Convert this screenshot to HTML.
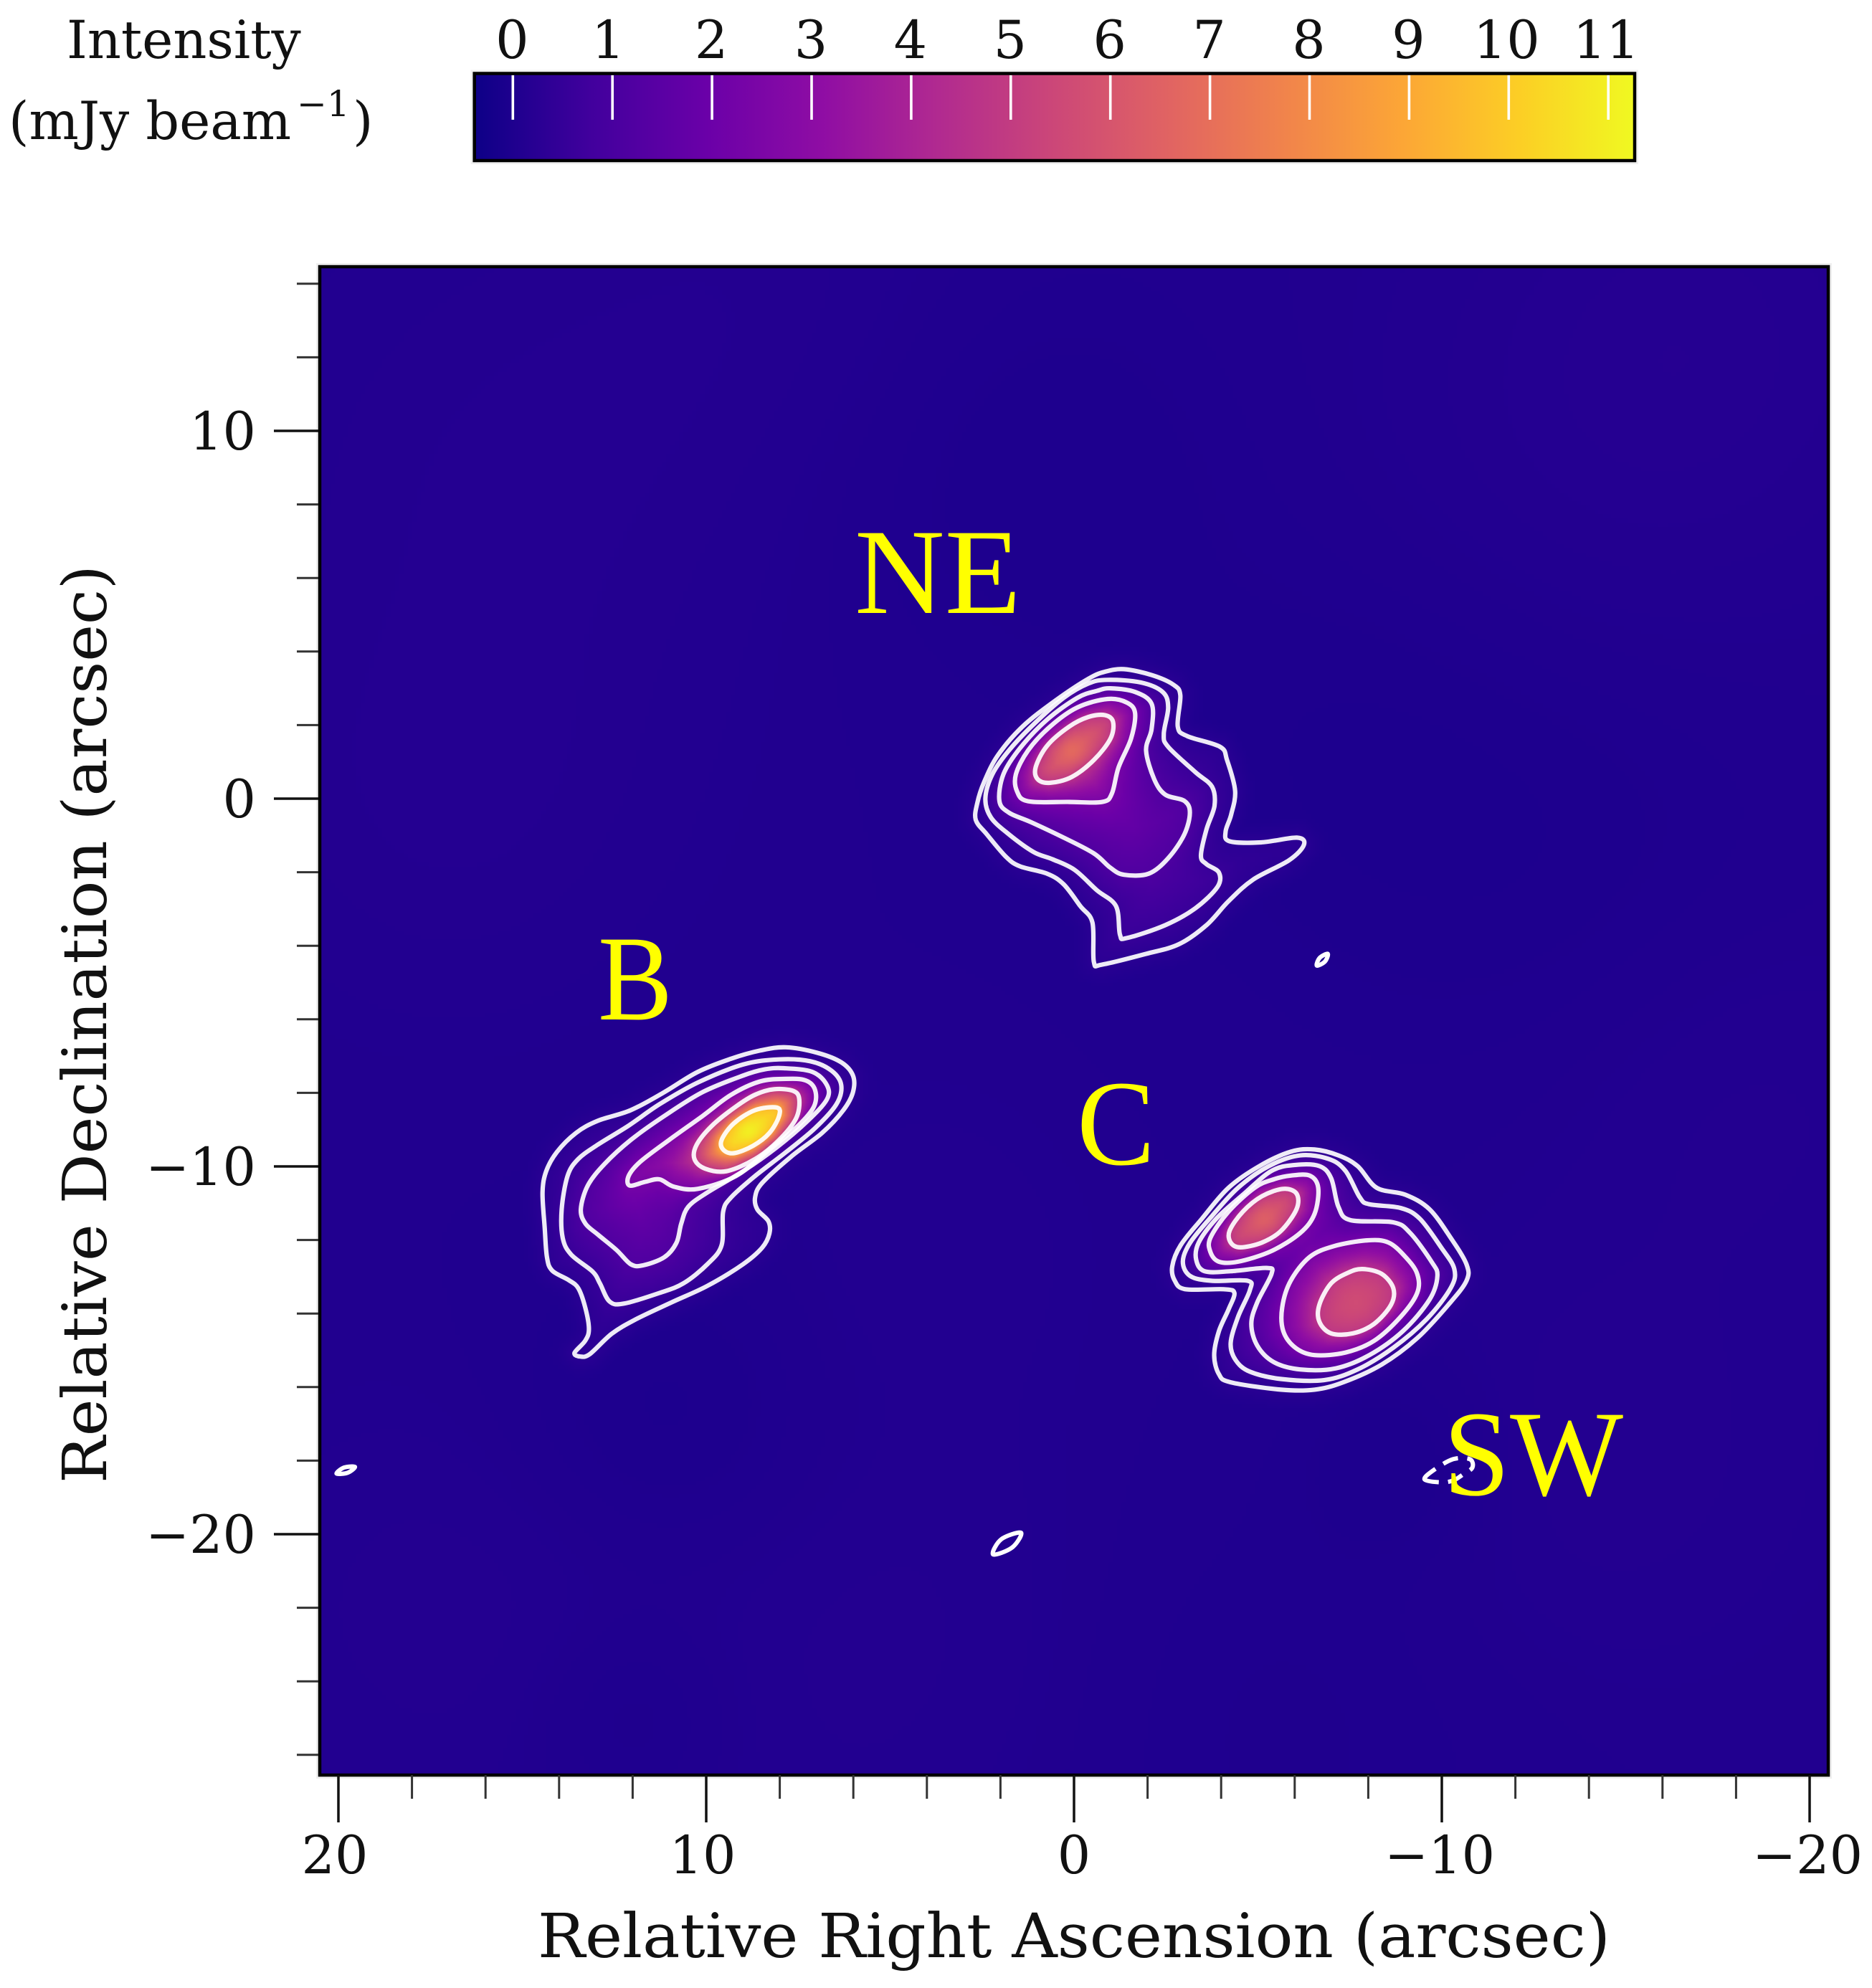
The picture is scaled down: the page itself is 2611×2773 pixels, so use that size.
<!DOCTYPE html>
<html lang="en">
<head>
<meta charset="utf-8">
<title>Relative intensity map with contours</title>
<style>
html,body{margin:0;padding:0;background:#fff;}
#stage{position:relative;width:2611px;height:2773px;overflow:hidden;background:#fff;}
#map{position:absolute;left:446px;top:372px;width:2104px;height:2104px;}
#over{position:absolute;left:0;top:0;width:2611px;height:2773px;}
text{font-family:"DejaVu Serif","Liberation Serif",serif;fill:#111;}
</style>
</head>
<body>
<div id="stage">
<canvas id="map"></canvas>
<svg id="over" xmlns="http://www.w3.org/2000/svg" width="2611" height="2773" viewBox="0 0 2611 2773">
  <defs><linearGradient id="plasmaGrad" x1="0" x2="1" y1="0" y2="0"></linearGradient></defs>
  <g id="cbar"></g>
  <g id="contours"></g>
  <g id="axes"></g>
  <g id="labels">
    <text x="1192" y="855" textLength="232" lengthAdjust="spacingAndGlyphs" style="font-family:'Liberation Serif',serif;fill:#ffff00;font-size:170px">NE</text>
    <text x="834" y="1422" textLength="104" lengthAdjust="spacingAndGlyphs" style="font-family:'Liberation Serif',serif;fill:#ffff00;font-size:170px">B</text>
    <text x="1502" y="1624" textLength="109" lengthAdjust="spacingAndGlyphs" style="font-family:'Liberation Serif',serif;fill:#ffff00;font-size:170px">C</text>
    <text x="2013" y="2085" textLength="251" lengthAdjust="spacingAndGlyphs" style="font-family:'Liberation Serif',serif;fill:#ffff00;font-size:170px">SW</text>
  </g>
  <text x="750" y="2730" font-size="85" textLength="1496" lengthAdjust="spacingAndGlyphs">Relative Right Ascension (arcsec)</text>
  <text transform="translate(148,2069) rotate(-90)" x="0" y="0" font-size="85" textLength="1281" lengthAdjust="spacingAndGlyphs">Relative Declination (arcsec)</text>
  <text x="93" y="81" font-size="73">Intensity</text>
  <text x="12" y="194" font-size="73">(mJy beam</text>
  <text x="414" y="162" font-size="50">−1</text>
  <text x="492" y="194" font-size="73">)</text>
</svg>
</div>
<script>
// ---------- data (arcsec and mJy/beam) ----------
const contourLevels = [0.3, 0.6, 1.2, 2.4, 4.8, 9.6];
const xMajorTicks = [20, 10, 0, -10, -20];
const xMinorTicks = [18, 16, 14, 12, 8, 6, 4, 2, -2, -4, -6, -8, -12, -14, -16, -18];
const yMajorTicks = [10, 0, -10, -20];
const yMinorTicks = [14, 12, 8, 6, 4, 2, -2, -4, -6, -8, -12, -14, -16, -18, -22, -24, -26];
const colorbarTicks = [0, 1, 2, 3, 4, 5, 6, 7, 8, 9, 10, 11];
const plasmaStops = ["#0d0087", "#41009d", "#6a00a8", "#8f0da4", "#b12a90", "#cc4778", "#e16462", "#f1844b", "#fca636", "#fcce25", "#f0f921"];

const intensityPeaks = [
  [0.06, 1.31, 6.8],
  [8.83, -9.02, 11.0],
  [-5.17, -11.42, 6.4],
  [-7.64, -13.70, 5.6]
];
const backgroundRipples = [
  [15, 9, 5, 0.07], [1, 9, 4, -0.07], [-14, 8, 5, 0.06], [17, 0, 4, 0.07], [-7, 2, 4, -0.05],
  [-13, -1, 5, -0.07], [11, -17, 3, -0.09], [-18, -8, 4, 0.06], [-14, -18, 4, 0.07], [-9, -18, 2, -0.08],
  [5, -23, 5, 0.06], [12, -25, 2, -0.08], [-5, -25, 5, -0.05], [17, -22, 4, 0.06], [4, -12, 3, 0.04],
  [-17, 13, 4, 0.08], [8, 14, 4, 0.05]
];
const backgroundLevel = 0.05;

const ne0 = [[-1.36,3.52],[-2.11,3.36],[-2.70,3.10],[-2.89,2.81],[-2.82,1.96],[-3.08,1.70],[-3.97,1.41],[-4.16,1.05],[-4.38,0.21],[-4.27,-0.44],[-4.12,-0.90],[-4.23,-1.16],[-5.09,-1.19],[-6.06,-1.06],[-6.25,-1.26],[-5.84,-1.68],[-4.87,-2.20],[-4.20,-2.79],[-3.60,-3.44],[-2.85,-3.96],[-1.96,-4.22],[-0.77,-4.51],[-0.54,-4.44],[-0.50,-3.37],[-0.17,-2.92],[0.28,-2.33],[0.73,-2.04],[1.47,-1.84],[1.85,-1.58],[2.37,-0.97],[2.67,-0.58],[2.63,-0.12],[2.44,0.46],[2.07,1.18],[1.40,1.96],[0.50,2.67],[-0.39,3.26],[-0.84,3.45]];
const ne1 = [[-0.91,3.23],[-1.81,3.16],[-2.41,2.90],[-2.56,2.48],[-2.44,1.76],[-2.56,1.41],[-3.30,0.72],[-3.75,0.33],[-3.82,-0.19],[-3.60,-0.84],[-3.45,-1.55],[-3.60,-1.78],[-3.94,-2.01],[-3.90,-2.40],[-3.30,-2.98],[-2.48,-3.44],[-1.44,-3.79],[-1.25,-3.70],[-1.14,-2.92],[-0.62,-2.49],[-0.02,-1.94],[0.58,-1.65],[1.10,-1.45],[1.77,-0.97],[2.26,-0.51],[2.41,0.01],[2.22,0.66],[1.77,1.31],[1.10,2.02],[0.28,2.74],[-0.39,3.13]];
const ne2 = [[-0.99,3.00],[-1.66,2.90],[-2.11,2.58],[-2.11,1.89],[-1.96,1.31],[-2.18,0.53],[-2.48,0.11],[-3.00,-0.06],[-3.15,-0.38],[-3.00,-0.97],[-2.56,-1.62],[-2.03,-2.04],[-1.36,-2.07],[-0.99,-1.88],[-0.54,-1.49],[0.28,-1.06],[1.17,-0.64],[1.77,-0.38],[2.03,-0.06],[1.92,0.66],[1.47,1.37],[0.73,2.15],[-0.09,2.74],[-0.62,2.93]];
const ne3 = [[-0.91,2.71],[-1.44,2.61],[-1.66,2.32],[-1.55,1.63],[-1.21,0.85],[-1.03,0.14],[-0.77,-0.09],[0.13,-0.09],[1.25,-0.07],[1.55,0.20],[1.58,0.66],[1.25,1.31],[0.65,1.96],[-0.09,2.48]];
const ne4 = [[-0.84,2.27],[-1.06,2.09],[-0.99,1.63],[-0.54,1.05],[0.06,0.59],[0.65,0.43],[0.99,0.53],[1.04,0.86],[0.73,1.44],[0.13,1.96],[-0.39,2.22]];

const b0 = [[7.83,-6.76],[6.98,-6.91],[6.33,-7.17],[6.01,-7.53],[6.01,-7.98],[6.27,-8.47],[6.85,-9.09],[7.70,-9.74],[8.48,-10.45],[8.67,-10.84],[8.61,-11.17],[8.31,-11.49],[8.28,-11.82],[8.48,-12.21],[9.00,-12.66],[9.97,-13.25],[10.95,-13.70],[11.92,-14.16],[12.57,-14.55],[13.16,-15.10],[13.42,-15.17],[13.58,-15.07],[13.29,-14.74],[13.19,-14.42],[13.29,-13.83],[13.48,-13.31],[13.74,-13.09],[14.19,-12.83],[14.33,-12.47],[14.39,-11.69],[14.45,-10.71],[14.35,-10.13],[14.06,-9.61],[13.54,-9.09],[12.95,-8.76],[12.05,-8.47],[11.14,-7.98],[10.23,-7.43],[9.32,-7.07],[8.54,-6.85]];
const b1 = [[8.02,-7.09],[7.17,-7.14],[6.59,-7.40],[6.33,-7.79],[6.46,-8.31],[7.04,-8.96],[7.83,-9.61],[8.67,-10.26],[9.32,-10.84],[9.54,-11.23],[9.58,-12.14],[9.97,-12.66],[10.62,-13.18],[11.27,-13.44],[12.24,-13.73],[12.63,-13.67],[12.89,-13.18],[13.09,-12.86],[13.67,-12.40],[13.90,-11.95],[13.93,-11.17],[13.77,-10.26],[13.48,-9.80],[12.95,-9.41],[12.11,-8.89],[11.27,-8.31],[10.23,-7.72],[9.00,-7.23]];
const b2 = [[7.89,-7.33],[7.11,-7.43],[6.72,-7.79],[6.72,-8.18],[7.24,-8.76],[8.08,-9.48],[9.00,-10.13],[9.97,-10.71],[10.49,-11.10],[10.68,-11.56],[10.81,-12.08],[11.14,-12.47],[11.72,-12.69],[12.05,-12.66],[12.44,-12.27],[12.95,-11.85],[13.28,-11.56],[13.41,-11.17],[13.22,-10.52],[12.76,-9.93],[12.05,-9.28],[11.14,-8.63],[10.10,-7.98],[9.00,-7.53],[8.41,-7.36]];
const b3 = [[7.83,-7.62],[7.30,-7.66],[7.04,-7.92],[7.07,-8.37],[7.50,-8.89],[8.28,-9.54],[9.19,-10.26],[10.23,-10.61],[10.88,-10.55],[11.27,-10.35],[11.66,-10.42],[12.08,-10.52],[12.11,-10.26],[11.79,-9.87],[11.01,-9.28],[10.10,-8.63],[9.32,-8.05],[8.54,-7.69]];
const b4 = [[8.15,-7.90],[7.63,-7.95],[7.47,-8.18],[7.56,-8.70],[8.02,-9.28],[8.67,-9.80],[9.45,-10.13],[10.03,-10.06],[10.32,-9.80],[10.26,-9.41],[9.84,-8.89],[9.19,-8.37],[8.67,-8.05]];
const b5 = [[8.08,-8.40],[8.02,-8.63],[8.28,-9.09],[8.73,-9.44],[9.25,-9.64],[9.54,-9.54],[9.58,-9.28],[9.25,-8.83],[8.67,-8.47]];

const sw0 = [[-6.54,-9.54],[-7.19,-9.70],[-7.71,-9.99],[-8.23,-10.58],[-9.01,-10.77],[-9.66,-11.16],[-10.24,-11.94],[-10.67,-12.66],[-10.67,-13.11],[-10.18,-13.76],[-9.33,-14.67],[-8.36,-15.39],[-7.32,-15.87],[-6.54,-16.07],[-5.63,-16.07],[-4.26,-15.87],[-3.94,-15.65],[-3.81,-15.13],[-3.94,-14.48],[-4.20,-13.89],[-4.36,-13.44],[-4.07,-13.34],[-3.03,-13.34],[-2.74,-13.11],[-2.67,-12.72],[-2.90,-12.14],[-3.48,-11.42],[-4.20,-10.58],[-5.04,-9.99],[-5.89,-9.60]];
const sw1 = [[-6.15,-9.70],[-6.93,-9.80],[-7.38,-10.12],[-7.77,-10.84],[-8.03,-11.03],[-8.88,-11.13],[-9.40,-11.42],[-9.98,-12.20],[-10.34,-12.79],[-10.24,-13.31],[-9.59,-14.15],[-8.68,-14.93],[-7.71,-15.52],[-6.80,-15.81],[-5.63,-15.78],[-4.78,-15.58],[-4.39,-15.26],[-4.26,-14.80],[-4.46,-14.09],[-4.78,-13.37],[-4.72,-13.11],[-3.74,-13.11],[-3.16,-12.98],[-2.96,-12.59],[-3.16,-12.07],[-3.74,-11.36],[-4.46,-10.58],[-5.30,-9.99]];
const sw2 = [[-6.02,-9.96],[-6.67,-9.99],[-6.99,-10.32],[-7.19,-11.10],[-7.51,-11.46],[-8.68,-11.52],[-9.14,-11.81],[-9.72,-12.59],[-9.88,-12.98],[-9.66,-13.63],[-8.94,-14.48],[-8.03,-15.13],[-7.12,-15.49],[-6.15,-15.52],[-5.43,-15.32],[-4.98,-14.87],[-4.82,-14.28],[-4.98,-13.70],[-5.37,-12.92],[-5.24,-12.76],[-4.26,-12.85],[-3.55,-12.85],[-3.32,-12.53],[-3.39,-12.07],[-3.87,-11.42],[-4.59,-10.77],[-5.37,-10.12]];
const sw3 = [[-5.89,-10.25],[-6.41,-10.25],[-6.64,-10.58],[-6.54,-11.29],[-6.15,-11.81],[-5.37,-12.30],[-4.46,-12.59],[-3.94,-12.59],[-3.71,-12.33],[-3.71,-11.94],[-4.20,-11.23],[-4.91,-10.58],[-5.43,-10.35]];
const sw4 = [[-5.69,-10.61],[-6.05,-10.74],[-6.05,-11.16],[-5.63,-11.75],[-5.11,-12.07],[-4.52,-12.20],[-4.26,-12.07],[-4.23,-11.75],[-4.59,-11.23],[-5.11,-10.81]];
const sw5 = [[-7.97,-12.01],[-8.55,-12.07],[-9.01,-12.46],[-9.33,-12.92],[-9.33,-13.44],[-8.88,-14.09],[-8.16,-14.74],[-7.38,-15.06],[-6.54,-15.13],[-6.02,-14.93],[-5.69,-14.48],[-5.66,-13.83],[-5.89,-13.11],[-6.41,-12.46],[-7.06,-12.17]];
const sw6 = [[-7.84,-12.79],[-8.36,-12.92],[-8.68,-13.31],[-8.62,-13.76],[-8.16,-14.28],[-7.58,-14.54],[-6.99,-14.54],[-6.67,-14.22],[-6.67,-13.76],[-6.99,-13.18],[-7.45,-12.89]];

const islandA = [[-6.60,-4.54],[-6.68,-4.33],[-6.90,-4.22],[-6.82,-4.43]];
const islandB = [[20.05,-18.35],[19.75,-18.33],[19.55,-18.17],[19.85,-18.19]];
const islandC = [[2.20,-20.55],[1.68,-20.36],[1.44,-19.96],[1.98,-20.14]];
const negativeIsland = [[-9.53,-18.51],[-9.79,-18.25],[-10.31,-17.96],[-10.76,-17.96],[-10.83,-18.19],[-10.57,-18.38],[-10.31,-18.54],[-9.98,-18.59]];

// level index paired with each contour
const contourSet = [
  [0, ne0], [1, ne1], [2, ne2], [3, ne3], [4, ne4],
  [0, b0], [1, b1], [2, b2], [3, b3], [4, b4], [5, b5],
  [0, sw0], [1, sw1], [2, sw2], [3, sw3], [4, sw4], [3, sw5], [4, sw6]
];
const noiseIslands = [islandA, islandB, islandC];

// ---------- scales ----------
const xZero = 1498, yZero = 1114, pxPerArcsec = 51.3;
function xScale(ra) { return xZero - pxPerArcsec * ra; }
function yScale(dec) { return yZero - pxPerArcsec * dec; }
const mapLeft = 446, mapTop = 372, mapWidth = 2104, mapHeight = 2104;
const frameBottom = 2476;
const vMin = -0.386, vMax = 11.265;
const cbarLeft = 661.7, cbarWidth = 1618.3;
function cbarX(v) { return cbarLeft + (v - vMin) / (vMax - vMin) * cbarWidth; }

const NS = "http://www.w3.org/2000/svg";
function mk(tag, parent, attrs) {
  const el = document.createElementNS(NS, tag);
  for (const k in attrs) el.setAttribute(k, attrs[k]);
  parent.appendChild(el);
  return el;
}
function hexToRgb(h) {
  return [parseInt(h.slice(1, 3), 16), parseInt(h.slice(3, 5), 16), parseInt(h.slice(5, 7), 16)];
}
const plasmaRgb = plasmaStops.map(hexToRgb);
function plasma(v) {
  let n = (v - vMin) / (vMax - vMin);
  n = Math.max(0, Math.min(1, n)) * (plasmaRgb.length - 1);
  const i = Math.min(plasmaRgb.length - 2, Math.floor(n)), f = n - i;
  const a = plasmaRgb[i], b = plasmaRgb[i + 1];
  return [a[0] + (b[0] - a[0]) * f, a[1] + (b[1] - a[1]) * f, a[2] + (b[2] - a[2]) * f];
}

// ---------- colorbar ----------
const grad = document.getElementById("plasmaGrad");
plasmaStops.forEach((c, i) => {
  mk("stop", grad, { offset: i / (plasmaStops.length - 1), "stop-color": c });
});
const cbarGroup = document.getElementById("cbar");
const cbarHalo = mk("rect", cbarGroup, { x: cbarLeft - 3.5, y: 99, width: cbarWidth + 7, height: 128.5, fill: "none", stroke: "#f0f0f0", "stroke-width": 3 });


const cbarRect = mk("rect", cbarGroup, { x: cbarLeft, y: 102.5, width: cbarWidth, height: 121.5, fill: "url(#plasmaGrad)", stroke: "#000", "stroke-width": 4.5 });


function cbarNudge(v) { return v === 1 ? -6 : (v >= 10 ? -3 : -1); }
colorbarTicks.forEach(v => {
  const t = mk("line", cbarGroup, { x1: cbarX(v), x2: cbarX(v), y1: 105, y2: 167, stroke: "#fff", "stroke-width": 3.6 });
  
  
  const l = mk("text", cbarGroup, { x: cbarX(v) + cbarNudge(v), y: 81, "text-anchor": "middle", "font-size": 73 });
  
  
  l.textContent = String(v);
});

// ---------- axes ----------
const axesGroup = document.getElementById("axes");
const frameHalo = mk("rect", axesGroup, { x: 442.5, y: 368.5, width: 2111, height: 2111, fill: "none", stroke: "#f0f0f0", "stroke-width": 3 });


const frame = mk("rect", axesGroup, { x: 446, y: 372, width: 2104, height: 2104, fill: "none", stroke: "#000", "stroke-width": 4.5 });


function signed(v) { return v < 0 ? "\u2212" + Math.abs(v) : String(v); }
function xLabelNudge(v) { return v > 0 ? -5 : (v === 0 ? 0 : -3); }
xMajorTicks.forEach(v => {
  const t = mk("line", axesGroup, { x1: xScale(v), x2: xScale(v), y1: frameBottom, y2: frameBottom + 66, stroke: "#111", "stroke-width": 3.5 });
  
  
  const l = mk("text", axesGroup, { x: xScale(v) + xLabelNudge(v), y: 2613, "text-anchor": "middle", "font-size": 73 });
  
  
  l.textContent = signed(v);
});
xMinorTicks.forEach(v => {
  const t = mk("line", axesGroup, { x1: xScale(v), x2: xScale(v), y1: frameBottom, y2: frameBottom + 33, stroke: "#333", "stroke-width": 3 });
  
  
});
yMajorTicks.forEach(v => {
  const t = mk("line", axesGroup, { x1: 444, x2: 382, y1: yScale(v), y2: yScale(v), stroke: "#111", "stroke-width": 3.5 });
  
  
  const l = mk("text", axesGroup, { x: 357, y: yScale(v) + 26, "text-anchor": "end", "font-size": 73 });
  
  
  l.textContent = signed(v);
});
yMinorTicks.forEach(v => {
  const t = mk("line", axesGroup, { x1: 444, x2: 414, y1: yScale(v), y2: yScale(v), stroke: "#333", "stroke-width": 3 });
  
  
});

// ---------- contours ----------
function smoothPath(pts) {
  const p = pts.map(q => [xScale(q[0]), yScale(q[1])]);
  const n = p.length;
  let d = "M" + p[0][0].toFixed(1) + " " + p[0][1].toFixed(1);
  for (let i = 0; i < n; i++) {
    const p0 = p[(i - 1 + n) % n], p1 = p[i], p2 = p[(i + 1) % n], p3 = p[(i + 2) % n];
    const c1x = p1[0] + (p2[0] - p0[0]) / 6, c1y = p1[1] + (p2[1] - p0[1]) / 6;
    const c2x = p2[0] - (p3[0] - p1[0]) / 6, c2y = p2[1] - (p3[1] - p1[1]) / 6;
    d += "C" + c1x.toFixed(1) + " " + c1y.toFixed(1) + " " + c2x.toFixed(1) + " " + c2y.toFixed(1) + " " + p2[0].toFixed(1) + " " + p2[1].toFixed(1);
  }
  return d + "Z";
}
const contourGroup = document.getElementById("contours");
contourSet.forEach(entry => {
  const c = mk("path", contourGroup, { d: smoothPath(entry[1]), fill: "none", stroke: "#fff", "stroke-width": 6.2, "stroke-opacity": 0.92 });
  
  
});
noiseIslands.forEach(pts => {
  const c = mk("path", contourGroup, { d: smoothPath(pts), fill: "none", stroke: "#fff", "stroke-width": 6 });
  
  
});
const negContour = mk("path", contourGroup, { d: smoothPath(negativeIsland), fill: "none", stroke: "#fff", "stroke-width": 6, "stroke-dasharray": "22 13" });



// ---------- intensity field ----------
function inside(pts, x, y) {
  let c = false;
  for (let i = 0, j = pts.length - 1; i < pts.length; j = i++) {
    const a = pts[i], b = pts[j];
    if ((a[1] > y) !== (b[1] > y) && x < (b[0] - a[0]) * (y - a[1]) / (b[1] - a[1]) + a[0]) c = !c;
  }
  return c;
}
function distance(pts, x, y) {
  let best = 1e9;
  for (let i = 0, j = pts.length - 1; i < pts.length; j = i++) {
    const a = pts[i], b = pts[j];
    const dx = b[0] - a[0], dy = b[1] - a[1];
    let t = ((x - a[0]) * dx + (y - a[1]) * dy) / (dx * dx + dy * dy);
    t = Math.max(0, Math.min(1, t));
    const ex = a[0] + t * dx - x, ey = a[1] + t * dy - y;
    const d = ex * ex + ey * ey;
    if (d < best) best = d;
  }
  return Math.sqrt(best);
}
const nodes = contourSet.map(e => {
  const xs = e[1].map(p => p[0]), ys = e[1].map(p => p[1]);
  return { lev: e[0], pts: e[1], x0: Math.min(...xs), x1: Math.max(...xs), y0: Math.min(...ys), y1: Math.max(...ys), kids: [], peak: null };
});
nodes.forEach(n => {
  nodes.forEach(m => {
    if (m.lev === n.lev + 1 && inside(n.pts, m.pts[0][0], m.pts[0][1])) n.kids.push(m);
  });
  if (!n.kids.length) {
    intensityPeaks.forEach(p => { if (inside(n.pts, p[0], p[1])) n.peak = p; });
  }
});
function backgroundAt(ra, dec) {
  let v = backgroundLevel;
  backgroundRipples.forEach(r => {
    const dx = ra - r[0], dy = dec - r[1];
    v += r[3] * Math.exp(-(dx * dx + dy * dy) / (2 * r[2] * r[2]));
  });
  return v;
}
function fieldAt(ra, dec) {
  const bg = backgroundAt(ra, dec);
  let cur = null;
  for (const n of nodes) {
    if (ra < n.x0 || ra > n.x1 || dec < n.y0 || dec > n.y1) continue;
    if ((!cur || n.lev > cur.lev) && inside(n.pts, ra, dec)) cur = n;
  }
  if (!cur) {
    let d = 1e9;
    for (const n of nodes) {
      if (n.lev !== 0) continue;
      if (ra < n.x0 - 1 || ra > n.x1 + 1 || dec < n.y0 - 1 || dec > n.y1 + 1) continue;
      d = Math.min(d, distance(n.pts, ra, dec));
    }
    if (d >= 0.8) return bg;
    const f = 1 - d / 0.8;
    return bg + (contourLevels[0] - bg) * f * f;
  }
  const L = contourLevels[cur.lev];
  const dOut = distance(cur.pts, ra, dec);
  if (cur.kids.length) {
    let dIn = 1e9;
    for (const k of cur.kids) dIn = Math.min(dIn, distance(k.pts, ra, dec));
    const t = dOut / (dOut + dIn);
    return L * Math.pow(contourLevels[cur.lev + 1] / L, t);
  }
  const pk = cur.peak || [ra, dec, L];
  const dP = Math.hypot(ra - pk[0], dec - pk[1]);
  const t = dOut / (dOut + dP + 1e-6);
  return L * Math.pow(pk[2] / L, t * (2 - t));
}
(function paintMap() {
  const cell = 6;
  const cols = Math.ceil(mapWidth / cell), rows = Math.ceil(mapHeight / cell);
  const cv = document.getElementById("map");
  cv.width = cols;
  cv.height = rows;
  const ctx = cv.getContext("2d");
  const img = ctx.createImageData(cols, rows);
  for (let r = 0; r < rows; r++) {
    for (let c = 0; c < cols; c++) {
      const px = mapLeft + (c + 0.5) * mapWidth / cols, py = mapTop + (r + 0.5) * mapHeight / rows;
      const ra = (xZero - px) / pxPerArcsec, dec = (yZero - py) / pxPerArcsec;
      const rgb = plasma(fieldAt(ra, dec));
      const o = (r * cols + c) * 4;
      img.data[o] = rgb[0];
      img.data[o + 1] = rgb[1];
      img.data[o + 2] = rgb[2];
      img.data[o + 3] = 255;
    }
  }
  ctx.putImageData(img, 0, 0);
})();
</script>
</body>
</html>
